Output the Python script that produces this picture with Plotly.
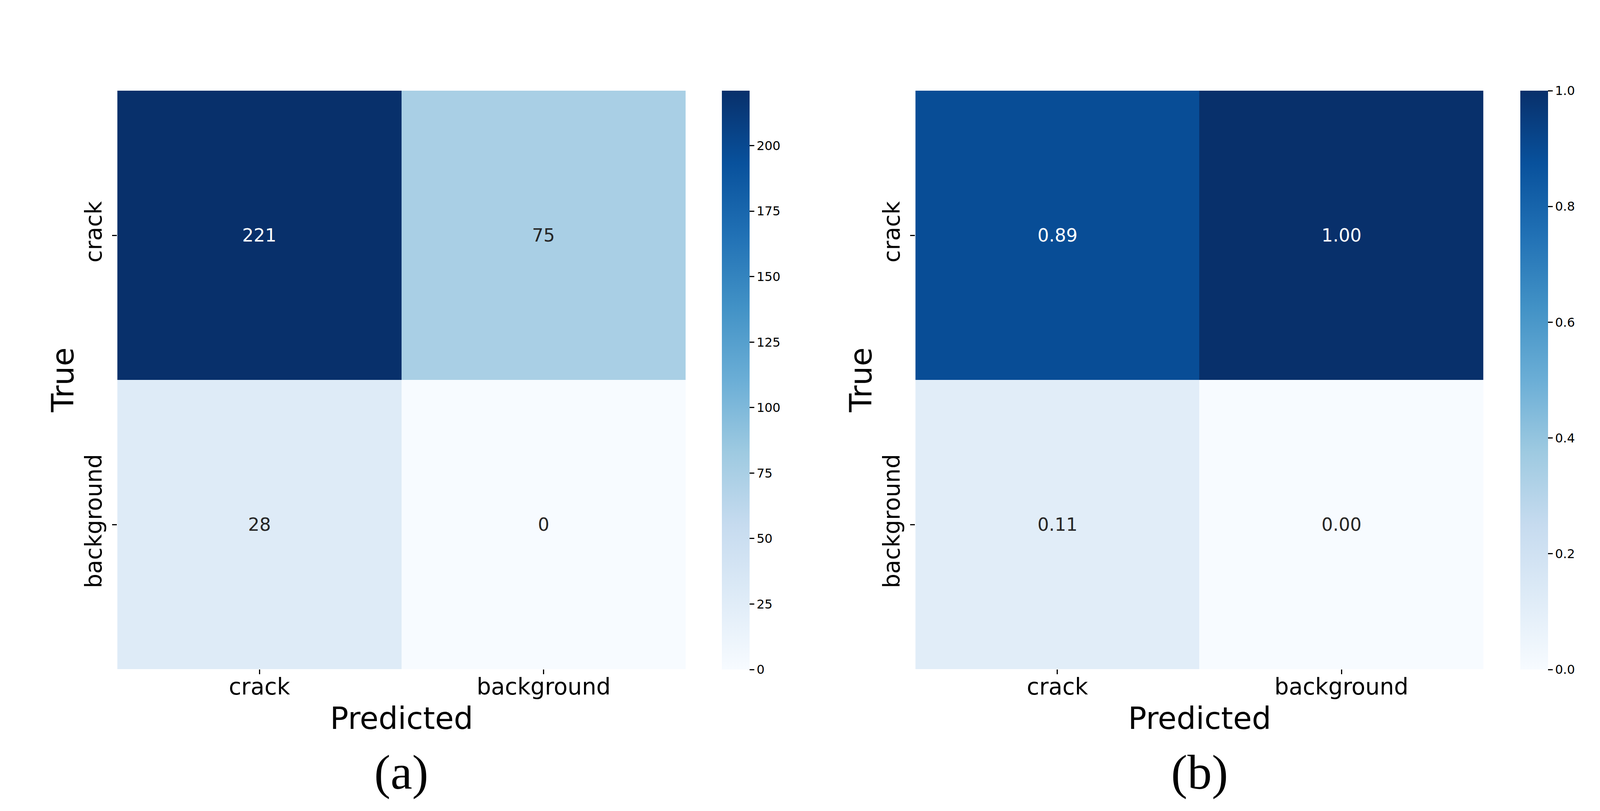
import plotly.graph_objects as go

# ---- data ----
pred_labels = ["crack", "background"]
true_labels = ["crack", "background"]
counts = [[221, 75],
          [28, 0]]
normalized = [[0.89, 1.00],
              [0.11, 0.00]]
count_ticks = [0, 25, 50, 75, 100, 125, 150, 175, 200]
norm_ticks = [0.0, 0.2, 0.4, 0.6, 0.8, 1.0]
panel_labels = ["(a)", "(b)"]

W, H = 4188, 2075   # reference canvas (used for fractional placement)

blues = ["#f7fbff", "#deebf7", "#c6dbef", "#9ecae1", "#6baed6",
         "#4292c6", "#2171b5", "#08519c", "#08306b"]
colorscale = [[i / (len(blues) - 1), c] for i, c in enumerate(blues)]

def px_x(p):
    return p / W

def px_y(p):
    return 1 - p / H

# layout geometry (reference pixels)
ax_a = (307, 1795)
ax_b = (2396, 3883)
top, bottom = 232, 1712
cb_a_x, cb_b_x = 1889, 3979
cb_thick = 73

TICK_FONT = dict(family="DejaVu Sans", size=58, color="black")
CB_FONT = dict(family="DejaVu Sans", size=32, color="black")

fig = go.Figure()

def cbar(xpix, ticks, fmt=None):
    d = dict(
        x=px_x(xpix), xanchor="left", xref="paper",
        y=px_y(top), yanchor="top", yref="paper",
        len=(bottom - top + 1) / H, lenmode="fraction",
        thickness=cb_thick / W, thicknessmode="fraction",
        xpad=0, ypad=0, outlinewidth=0,
        tickvals=ticks, ticks="outside", ticklen=12, tickwidth=2.5,
        tickcolor="black", tickfont=CB_FONT,
    )
    if fmt:
        d["tickformat"] = fmt
    return d

fig.add_trace(go.Heatmap(
    z=counts, x=pred_labels, y=true_labels,
    colorscale=colorscale, zmin=0, zmax=221,
    xaxis="x", yaxis="y", hoverinfo="skip",
    colorbar=cbar(cb_a_x, count_ticks),
))
fig.add_trace(go.Heatmap(
    z=normalized, x=pred_labels, y=true_labels,
    colorscale=colorscale, zmin=0, zmax=1,
    xaxis="x2", yaxis="y2", hoverinfo="skip",
    colorbar=cbar(cb_b_x, norm_ticks, ".1f"),
))

axis_common = dict(showgrid=False, zeroline=False, showline=False,
                   ticks="outside", ticklen=12, tickwidth=2.5, tickcolor="black",
                   tickfont=TICK_FONT)

fig.update_layout(
    autosize=True,
    margin=dict(l=0, r=0, t=0, b=0, pad=0, autoexpand=False),
    paper_bgcolor="white", plot_bgcolor="white",
    showlegend=False,
    xaxis=dict(domain=[px_x(ax_a[0]), px_x(ax_a[1])], anchor="y",
               ticklabelstandoff=-18, **axis_common),
    yaxis=dict(domain=[px_y(bottom), px_y(top)], anchor="x", autorange="reversed",
               tickangle=-90, ticklabelstandoff=4, **axis_common),
    xaxis2=dict(domain=[px_x(ax_b[0]), px_x(ax_b[1])], anchor="y2",
                ticklabelstandoff=-18, **axis_common),
    yaxis2=dict(domain=[px_y(bottom), px_y(top)], anchor="x2", autorange="reversed",
                tickangle=-90, ticklabelstandoff=4, **axis_common),
)

annotations = []
# cell values
for (mat, fmt, zmax, xr, yr) in [(counts, "{:d}", 221, "x", "y"),
                                   (normalized, "{:.2f}", 1.0, "x2", "y2")]:
    for i, t in enumerate(true_labels):
        for j, p in enumerate(pred_labels):
            v = mat[i][j]
            col = "white" if v / zmax > 0.6 else "#262626"
            annotations.append(dict(
                x=p, y=t, xref=xr, yref=yr, text=fmt.format(v), showarrow=False,
                font=dict(family="DejaVu Sans", size=46, color=col)))

# axis titles and panel labels
for (x0, x1), lab in [(ax_a, panel_labels[0]), (ax_b, panel_labels[1])]:
    cx = px_x((x0 + x1) / 2)
    annotations.append(dict(x=cx, y=px_y(1838), xref="paper", yref="paper",
                            text="Predicted", showarrow=False, xanchor="center",
                            yanchor="middle",
                            font=dict(family="DejaVu Sans", size=78, color="black")))
    annotations.append(dict(x=cx, y=px_y(1976), xref="paper", yref="paper",
                            text=lab, showarrow=False, xanchor="center",
                            yanchor="middle",
                            font=dict(family="Liberation Serif", size=125, color="black")))
    annotations.append(dict(x=px_x(x0 - 142), y=px_y((top + bottom) / 2),
                            xref="paper", yref="paper", text="True", textangle=-90,
                            showarrow=False, xanchor="center", yanchor="middle",
                            font=dict(family="DejaVu Sans", size=78, color="black")))

fig.update_layout(annotations=annotations)

fig.write_html(
    "out.html",
    default_width="100vw", default_height="100vh",
    config={"responsive": True, "displayModeBar": False},
    post_script="document.body.style.margin='0px';document.body.style.overflow='hidden';"
                "window.dispatchEvent(new Event('resize'));",
)
